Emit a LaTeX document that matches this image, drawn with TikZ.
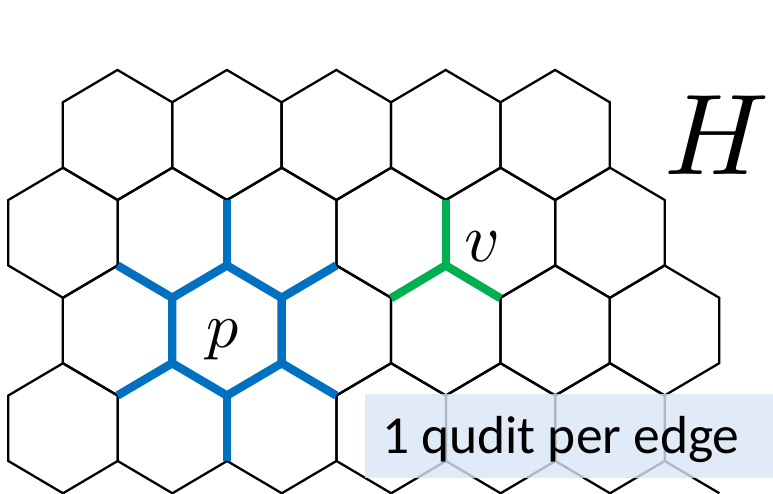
\documentclass[tikz,border=0pt]{standalone}
\usepackage{fontspec}
\newfontfamily\labelfont{Carlito}
% scalable math italic for the large symbols
\DeclareFontShape{OML}{cmm}{m}{it}{<->cmmi10}{}
\definecolor{plaqblue}{RGB}{0,112,192}
\definecolor{vertgreen}{RGB}{0,176,80}
\definecolor{notefill}{RGB}{218,229,245}
\begin{document}
\begin{tikzpicture}[x=1pt,y=1pt,
  latt/.style={line width=2.3pt,black,line join=miter},
  plaq/.style={line width=8.4pt,plaqblue,line join=miter},
  vstar/.style={line width=8.4pt,vertgreen,line join=miter},
  notebox/.style={fill=notefill,fill opacity=0.8,draw=none}]
\useasboundingbox (0,0) rectangle (773,494);
% half width, half vertical side, centre-to-tip of a hexagon
\def\hexhw{54.7}\def\hexhb{32.73}\def\hextip{65.03}
\newcommand\hexcell[2]{%
  \draw[latt] (#1+\hexhw,#2+\hexhb) -- (#1,#2+\hextip) -- (#1-\hexhw,#2+\hexhb)
    -- (#1-\hexhw,#2-\hexhb) -- (#1,#2-\hextip) -- (#1+\hexhw,#2-\hexhb) -- cycle;}
% lattice rows
\foreach \k in {0,...,4} {\hexcell{117.5+109.4*\k}{359.0}}
\foreach \k in {0,...,5} {\hexcell{63.0+109.4*\k}{261.25}}
\foreach \k in {0,...,5} {\hexcell{117.5+109.4*\k}{163.5}}
\foreach \k in {0,...,5} {\hexcell{63.0+109.4*\k}{65.75}}
\draw[latt] (63.0+109.4*5+\hexhw,65.75-\hexhb) -- (63.0+109.4*5+2*\hexhw,65.75-\hextip);
% plaquette p with its six outgoing edges
\def\plx{226.9}\def\ply{163.5}
\draw[plaq] (\plx+\hexhw,\ply+\hexhb) -- (\plx,\ply+\hextip) -- (\plx-\hexhw,\ply+\hexhb)
  -- (\plx-\hexhw,\ply-\hexhb) -- (\plx,\ply-\hextip) -- (\plx+\hexhw,\ply-\hexhb) -- cycle;
\draw[plaq] (\plx,\ply+\hextip) -- (\plx,\ply+\hextip+2*\hexhb);
\draw[plaq] (\plx,\ply-\hextip) -- (\plx,\ply-\hextip-2*\hexhb);
\draw[plaq] (\plx-\hexhw,\ply+\hexhb) -- (\plx-2*\hexhw,\ply+\hextip);
\draw[plaq] (\plx+\hexhw,\ply+\hexhb) -- (\plx+2*\hexhw,\ply+\hextip);
\draw[plaq] (\plx-\hexhw,\ply-\hexhb) -- (\plx-2*\hexhw,\ply-\hextip);
\draw[plaq] (\plx+\hexhw,\ply-\hexhb) -- (\plx+2*\hexhw,\ply-\hextip);
% vertex v with its three edges
\coordinate (vtx) at (445.7,228.53);
\draw[vstar] (vtx) -- ++(0,2*\hexhb);
\draw[vstar] (vtx) -- ++(-\hexhw,-\hexhb);
\draw[vstar] (vtx) -- ++(\hexhw,-\hexhb);
% labels
\node[anchor=base west,inner sep=0pt,font=\fontsize{64}{64}\selectfont] (plab) at (206,146.4) {$p$};
\node[anchor=base west,inner sep=0pt,font=\fontsize{69}{69}\selectfont] (vlab) at (464,232.3) {$v$};
\node[anchor=base west,inner sep=0pt,font=\fontsize{115}{115}\selectfont] (Hlab) at (664,319) {$H$};
% note box
\fill[notebox] (365,15.7) rectangle (773,99.7);
\node[anchor=base west,inner sep=0pt,font=\labelfont\fontsize{53.5}{53.5}\selectfont] (note) at (382,40.7) {1 qudit per edge};
\end{tikzpicture}
\end{document}
